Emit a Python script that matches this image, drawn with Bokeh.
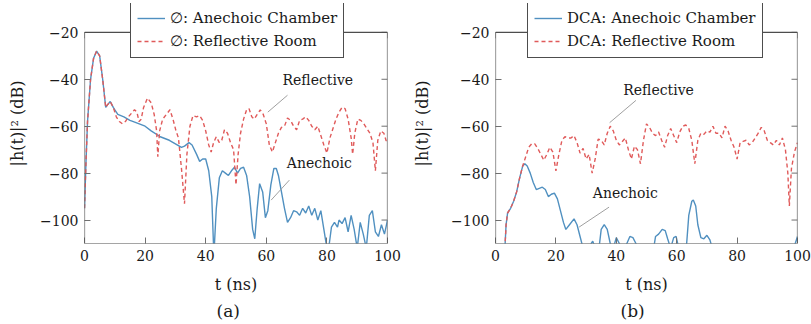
import math
from bokeh.plotting import figure
from bokeh.layouts import row
from bokeh.models import Range1d, Legend, LegendItem, Label, Title, FixedTicker, BoxAnnotation
from bokeh.embed import file_html
from bokeh.resources import INLINE

FONT = "DejaVu Serif"
BLUE = "#5090c0"
RED = "#e05a5a"

x_ticks = [0, 20, 40, 60, 80, 100]
y_ticks = [-100, -80, -60, -40, -20]
x_lim = (0, 100)
y_lim = (-110, -20)
y_view_top = -7.7   # extra head-room inside the frame where the legend sits

# ---- Panel (a): Ø ----
a_anech_t = [0, 0.5, 1, 2, 3, 4, 5, 6, 7, 7.5, 8.5, 9.5, 10, 11, 13, 15, 17, 20, 22, 25, 28, 30, 32, 33,
             34.5, 35.5, 37, 38, 39, 40, 41, 42, 42.7, 43.5, 44.5, 45.5, 46.5, 47.5, 48.5, 49.5, 50.5,
             51.5, 52.5, 53.5, 54.5, 55.5, 56.2, 57, 57.8, 58.8, 59.7, 60.5, 61.5, 62.5, 63.3, 64, 65,
             66, 67, 68, 69, 70, 71, 72, 73, 74, 75, 76, 77, 78, 79, 80, 80.8, 81.5, 82.5, 83.5, 84,
             85, 86, 87, 88, 89, 90, 91, 92, 93, 94, 95, 96, 97, 98, 99, 100]
a_anech_y = [-95, -75, -58, -40, -31, -28, -30, -40, -52, -51, -49.5, -52, -53, -55, -56, -57.5, -58.5,
             -60, -62, -64.5, -66, -67.5, -69, -68.5, -67, -68, -72, -75, -74, -74, -79, -90, -115, -95,
             -82, -79, -80, -81, -79, -77.5, -80, -78, -77.5, -81, -90, -104, -108, -95, -84.5, -88, -99,
             -96, -85, -78, -78, -81, -88, -95, -101, -99, -96, -96.5, -98, -95, -97, -94, -98, -95,
             -100, -96, -104, -112, -110, -103, -101, -103, -100, -101.5, -99, -105, -98, -104, -112,
             -101, -106, -112, -98, -96, -105, -107, -102, -106, -100]

a_refl_t = [0, 0.5, 1, 2, 3, 4, 5, 6, 7, 7.5, 8.5, 9.5, 10.5, 11.5, 12.5, 13.5, 14.5, 15.5, 16.5, 17.3,
            18, 18.7, 19.5, 20.8, 22, 23, 23.8, 24.2, 24.8, 25.8, 27, 28.2, 29.2, 30.2, 31, 32, 33, 33.8,
            34.8, 35.8, 37, 38, 39, 40, 41, 41.8, 42.6, 43.5, 44.5, 45.3, 46.2, 47.2, 48.2, 49.2, 50,
            50.7, 51.5, 52.5, 53.5, 54.3, 55.2, 56, 57, 58, 59, 60, 61, 62, 63, 64, 65, 66, 67, 68, 69,
            70, 71, 72, 73, 74, 75, 76, 77, 78, 79, 80, 81, 82, 83, 84, 85, 86, 87, 88, 88.5, 89.2,
            90.2, 91.2, 92.2, 93.2, 94.2, 95.2, 96, 96.8, 97.8, 98.8, 99.5, 100]
a_refl_y = [-95, -75, -58, -40, -31, -28, -30, -40, -52, -51, -49.5, -52, -56, -58, -59, -58, -56, -54.5,
            -53, -54, -58, -57, -52, -48, -50, -55, -62, -73, -62, -57, -55, -53, -57, -62, -65, -78,
            -93, -72, -60, -55.5, -56, -55.5, -57.5, -62, -68, -71, -67, -64.5, -67, -66, -61.5, -63,
            -67, -70, -85, -72, -63, -57, -53, -52.5, -56, -57, -55, -53, -55, -59, -68, -71, -67, -63,
            -60.5, -60, -56.5, -57.5, -60, -61.5, -57.5, -57, -56, -57.5, -60, -61.5, -60, -64, -68,
            -71.5, -65, -61, -57, -54, -52, -52.5, -57, -65, -72, -63, -57, -57.5, -59, -61, -63, -67,
            -79, -66, -62, -63, -66, -67]

# ---- Panel (b): DCA ----
b_anech_t = [3, 3.5, 4, 5, 6, 7, 8, 9, 9.7, 10.5, 11.5, 12.5, 13.5, 14.5, 15.5, 16.5, 17.5, 18.5, 19.5,
             20.5, 21.5, 22.5, 23.3, 24.5, 26, 27, 28, 29, 31, 31.7, 32.2, 32.8, 34, 35, 36, 37, 38, 39,
             40, 41, 42, 43.5, 44.5, 45.5, 46.5, 48, 52, 53, 54, 55.2, 56.2, 57, 58, 59, 59.8, 60.5,
             62.5, 63.3, 64, 65, 65.5, 66.3, 67, 68, 69, 70, 71, 72, 74, 98, 99, 100]
b_anech_y = [-115, -102, -97, -95, -92, -88, -82, -77, -76, -77, -80, -84, -87, -86.5, -86, -87, -90,
             -89, -88.5, -91, -96, -101, -104, -102, -99.5, -102, -107, -112, -115, -110, -109, -111,
             -115, -104, -102, -104, -110, -112, -107.5, -110, -113, -110, -107, -107.5, -110, -115,
             -115, -107, -106, -104, -104.5, -108, -112, -107.5, -107, -111, -115, -110, -98, -92,
             -91.5, -94, -102, -107.5, -108, -106.5, -108.5, -113, -115, -115, -111, -107]

b_refl_t = [3, 3.5, 4, 5, 6, 7, 8, 9, 10, 11, 12, 13, 14, 15, 16, 17, 18, 19, 20, 21, 22, 23, 24, 25,
            26, 27, 28, 29, 30, 31, 32, 33, 34, 35, 36, 37, 38, 39, 40, 41, 42, 43, 44, 45, 46, 47, 48,
            49, 50, 51, 52, 53, 54, 55, 56, 57, 58, 59, 60, 61, 62, 63, 64, 65, 66, 67, 68, 69, 70, 71,
            72, 73, 74, 75, 76, 77, 78, 79, 80, 81, 82, 83, 84, 85, 86, 87, 88, 89, 90, 91, 92, 93, 94,
            95, 96, 96.8, 97.3, 98, 99, 100]
b_refl_y = [-115, -102, -97, -95, -92, -88, -82, -77, -73, -69, -67.5, -67.5, -69.5, -72, -74.5, -72,
            -69, -71, -79, -72, -66, -64.5, -65, -65, -64, -67, -71.5, -69.5, -74, -72, -80, -74, -65.5,
            -66, -68, -63, -60, -62, -66, -68, -66.5, -65, -70, -74, -68.5, -70, -76, -66, -59, -60.5,
            -63, -64, -62.5, -66, -69, -64, -61, -64, -67, -62.5, -60, -59.5, -61, -66, -76, -66, -63,
            -63.5, -62, -62.5, -60, -63, -63, -65, -60, -62, -66, -69, -74, -67, -66.5, -66, -68, -67,
            -65, -63, -60.5, -62, -66, -67, -68, -66, -68, -65, -70, -80, -94, -78, -71, -67]

# annotation texts and leader lines
a_refl_label = ("Reflective", 77, -40.5)
a_refl_leader = ([67, 60.5], [-46.8, -54])
a_anech_label = ("Anechoic", 77.5, -75.5)
a_anech_leader = ([67.6, 61.6], [-83, -91.5])
b_refl_label = ("Reflective", 54, -44.5)
b_refl_leader = ([46.5, 37.8], [-49, -58.5])
b_anech_label = ("Anechoic", 43, -88.5)
b_anech_leader = ([37.6, 27.7], [-94.5, -103])

TICK_COLOR = "#707070"
TEXT_COLOR = "#1a1a1a"
FRAME_COLOR = "#4d4d4d"


def panel(width, mb_left, mb_right, ylab_standoff, anech, refl, names, labels, leaders,
          legend_x, tag, tag_offset):
    p = figure(width=width, height=324, x_range=Range1d(*x_lim),
               y_range=Range1d(y_lim[0], y_view_top),
               output_backend="svg", toolbar_location=None, title=None,
               min_border_left=mb_left, min_border_right=mb_right,
               min_border_top=3, min_border_bottom=81,
               x_axis_label="t (ns)", y_axis_label="|h(t)|² (dB)")
    p.xgrid.visible = False
    p.ygrid.visible = False
    p.outline_line_color = None
    p.background_fill_color = "white"
    p.border_fill_color = "white"

    for ax, ticks in ((p.xaxis[0], x_ticks), (p.yaxis[0], y_ticks)):
        ax.ticker = FixedTicker(ticks=ticks)
        ax.axis_line_color = None
        ax.major_tick_in = 6
        ax.major_tick_out = 0
        ax.major_tick_line_color = TICK_COLOR
        ax.minor_tick_line_color = None
        ax.major_label_text_font = FONT
        ax.major_label_text_font_size = "14px"
        ax.major_label_text_color = TEXT_COLOR
        ax.major_label_standoff = 6
        ax.axis_label_text_font = FONT
        ax.axis_label_text_font_size = "16px"
        ax.axis_label_text_font_style = "normal"
        ax.axis_label_text_color = TEXT_COLOR
    p.xaxis[0].axis_label_standoff = 11
    p.yaxis[0].axis_label_standoff = ylab_standoff

    # the visible plot box (y from -110 to -20)
    p.add_layout(BoxAnnotation(left=x_lim[0], right=x_lim[1], bottom=y_lim[0], top=y_lim[1],
                               fill_color=None, line_color=FRAME_COLOR, line_width=1.2,
                               line_alpha=1))

    # inner ticks on the top and right edges of the box
    p.ray(x=x_ticks, y=[y_lim[1]] * len(x_ticks), length=6, length_units="screen",
          angle=-math.pi / 2, line_color=TICK_COLOR, line_width=1)
    p.ray(x=[x_lim[1]] * len(y_ticks), y=y_ticks, length=6, length_units="screen",
          angle=math.pi, line_color=TICK_COLOR, line_width=1)

    r1 = p.line(anech[0], anech[1], line_color=BLUE, line_width=1.4)
    r2 = p.line(refl[0], refl[1], line_color=RED, line_width=1.4, line_dash="4 3")

    for (txt, lx, ly), (xs, ys) in zip(labels, leaders):
        p.line(xs, ys, line_color="#a0a0a0", line_width=1)
        p.add_layout(Label(x=lx, y=ly, text=txt, text_align="center", text_baseline="middle",
                           text_font=FONT, text_font_size="14px", text_color=TEXT_COLOR))

    legend = Legend(items=[LegendItem(label=names[0], renderers=[r1]),
                           LegendItem(label=names[1], renderers=[r2])],
                    location=(legend_x, 185), orientation="vertical",
                    border_line_color=FRAME_COLOR, border_line_width=1, border_line_alpha=1,
                    background_fill_color="white", background_fill_alpha=1,
                    label_text_font=FONT, label_text_font_size="15px",
                    label_text_color=TEXT_COLOR,
                    glyph_width=28, glyph_height=20, label_height=20, spacing=3, padding=6,
                    margin=0, label_standoff=5)
    p.add_layout(legend)

    p.add_layout(Title(text=tag, align="left", text_font=FONT, text_font_size="17px",
                       text_font_style="normal", text_color=TEXT_COLOR, standoff=5,
                       offset=tag_offset), "below")
    return p


p1 = panel(409, 84, 22, 10, (a_anech_t, a_anech_y), (a_refl_t, a_refl_y),
           ("∅: Anechoic Chamber", "∅: Reflective Room"),
           [a_refl_label, a_anech_label], [a_refl_leader, a_anech_leader], 46, "(a)", 132)
p2 = panel(402, 86, 14, 16, (b_anech_t, b_anech_y), (b_refl_t, b_refl_y),
           ("DCA: Anechoic Chamber", "DCA: Reflective Room"),
           [b_refl_label, b_anech_label], [b_refl_leader, b_anech_leader], 32, "(b)", 125)

layout = row(p1, p2)
open("out.html", "w").write(file_html(layout, INLINE))
